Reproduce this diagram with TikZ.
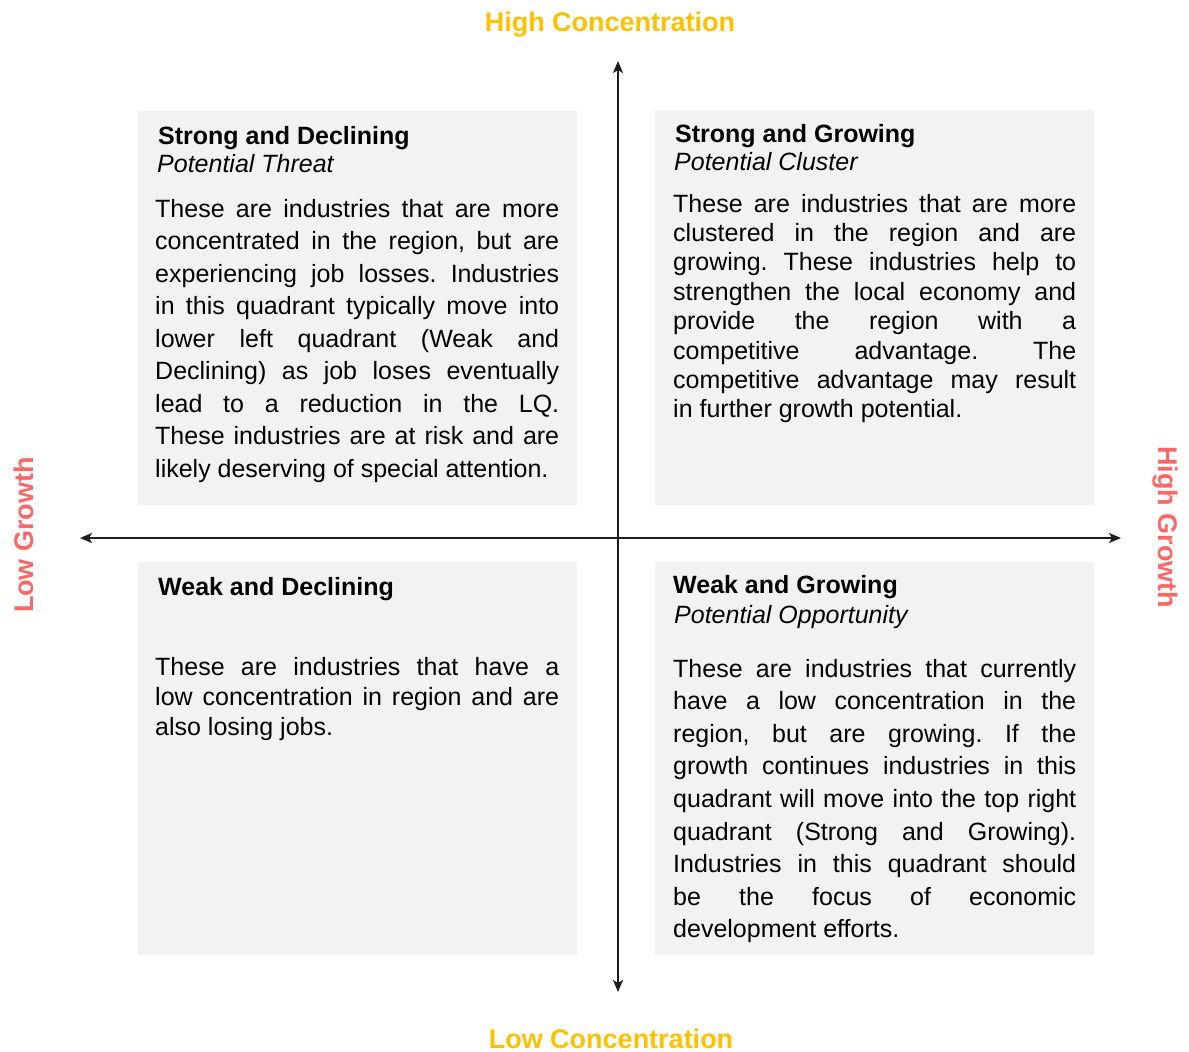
\documentclass[tikz,border=0pt]{standalone}
\usepackage{fontspec}
\setmainfont{Liberation Sans}
\usetikzlibrary{arrows.meta}
\definecolor{boxgray}{RGB}{242,242,242}
\definecolor{concorange}{RGB}{255,192,0}
\definecolor{growred}{RGB}{255,102,102}
\definecolor{axisgray}{RGB}{30,30,30}
\tolerance=10000
\hbadness=10000
\hyphenpenalty=10000
\frenchspacing
\begin{document}
\begin{tikzpicture}[x=1pt,y=-1pt,
  quadbox/.style={fill=boxgray, draw=none, inner sep=0pt, anchor=north west},
  qtitle/.style={anchor=base west, inner sep=0pt, font=\fontsize{25}{30}\selectfont\bfseries},
  qsub/.style={anchor=base west, inner sep=0pt, font=\fontsize{25}{30}\selectfont\itshape},
  qbody/.style={anchor=base west, inner sep=0pt, text width=404pt, align=justify},
  axislabel/.style={inner sep=0pt, anchor=base, font=\fontsize{27}{32}\selectfont\bfseries},
  axisline/.style={line width=1.8pt, draw=axisgray,
    {Stealth[length=12pt,width=10pt,inset=3pt]}-{Stealth[length=12pt,width=10pt,inset=3pt]}}
]
\useasboundingbox (0,0) rectangle (1189,1052);

% quadrant boxes
\node[quadbox, minimum width=439pt, minimum height=394pt] (tlbox) at (138,111) {};
\node[quadbox, minimum width=439pt, minimum height=395pt] (trbox) at (655,110) {};
\node[quadbox, minimum width=439pt, minimum height=393pt] (blbox) at (138,562) {};
\node[quadbox, minimum width=439pt, minimum height=393pt] (brbox) at (655,562) {};

% axes
\coordinate (vtop) at (618,61);
\coordinate (vbot) at (618,992);
\coordinate (hleft) at (80,538);
\coordinate (hright) at (1121,538);
\draw[axisline] (vbot) -- (vtop);
\draw[axisline] (hleft) -- (hright);

% axis labels
\node[axislabel, text=concorange] (highconc) at (610,31.5) {High Concentration};
\node[axislabel, text=concorange] (lowconc) at (611,1048) {Low Concentration};
\node[axislabel, text=growred, rotate=90] (lowgrowth) at (33,535) {Low Growth};
\node[axislabel, text=growred, rotate=-90] (highgrowth) at (1158,527) {High Growth};

% top left
\node[qtitle] (tltitle) at (158,144) {Strong and Declining};
\node[qsub] (tlsub) at (157,172) {Potential Threat};
\node[qbody, font=\fontsize{25}{32.5}\selectfont] (tlbody) at (155,217) {These are industries that are more\linebreak
concentrated in the region, but are\linebreak
experiencing job losses. Industries\linebreak
in this quadrant typically move into\linebreak
lower left quadrant (Weak and\linebreak
Declining) as job loses eventually\linebreak
lead to a reduction in the LQ.\linebreak
These industries are at risk and are\linebreak
likely deserving of special attention.};

% top right
\node[qtitle] (trtitle) at (675,142) {Strong and Growing};
\node[qsub] (trsub) at (674,170) {Potential Cluster};
\node[qbody, text width=403pt, font=\fontsize{25}{29.4}\selectfont] (trbody) at (673,212) {These are industries that are more\linebreak
clustered in the region and are\linebreak
growing. These industries help to\linebreak
strengthen the local economy and\linebreak
provide the region with a\linebreak
competitive advantage. The\linebreak
competitive advantage may result\linebreak
in further growth potential.};

% bottom left
\node[qtitle] (bltitle) at (158,595) {Weak and Declining};
\node[qbody, font=\fontsize{25}{30}\selectfont] (blbody) at (155,675) {These are industries that have a\linebreak
low concentration in region and are\linebreak
also losing jobs.};

% bottom right
\node[qtitle] (brtitle) at (673,593) {Weak and Growing};
\node[qsub] (brsub) at (674,623) {Potential Opportunity};
\node[qbody, text width=403pt, font=\fontsize{25}{32.6}\selectfont] (brbody) at (673,677) {These are industries that currently\linebreak
have a low concentration in the\linebreak
region, but are growing. If the\linebreak
growth continues industries in this\linebreak
quadrant will move into the top right\linebreak
quadrant (Strong and Growing).\linebreak
Industries in this quadrant should\linebreak
be the focus of economic\linebreak
development efforts.};
\end{tikzpicture}
\end{document}
